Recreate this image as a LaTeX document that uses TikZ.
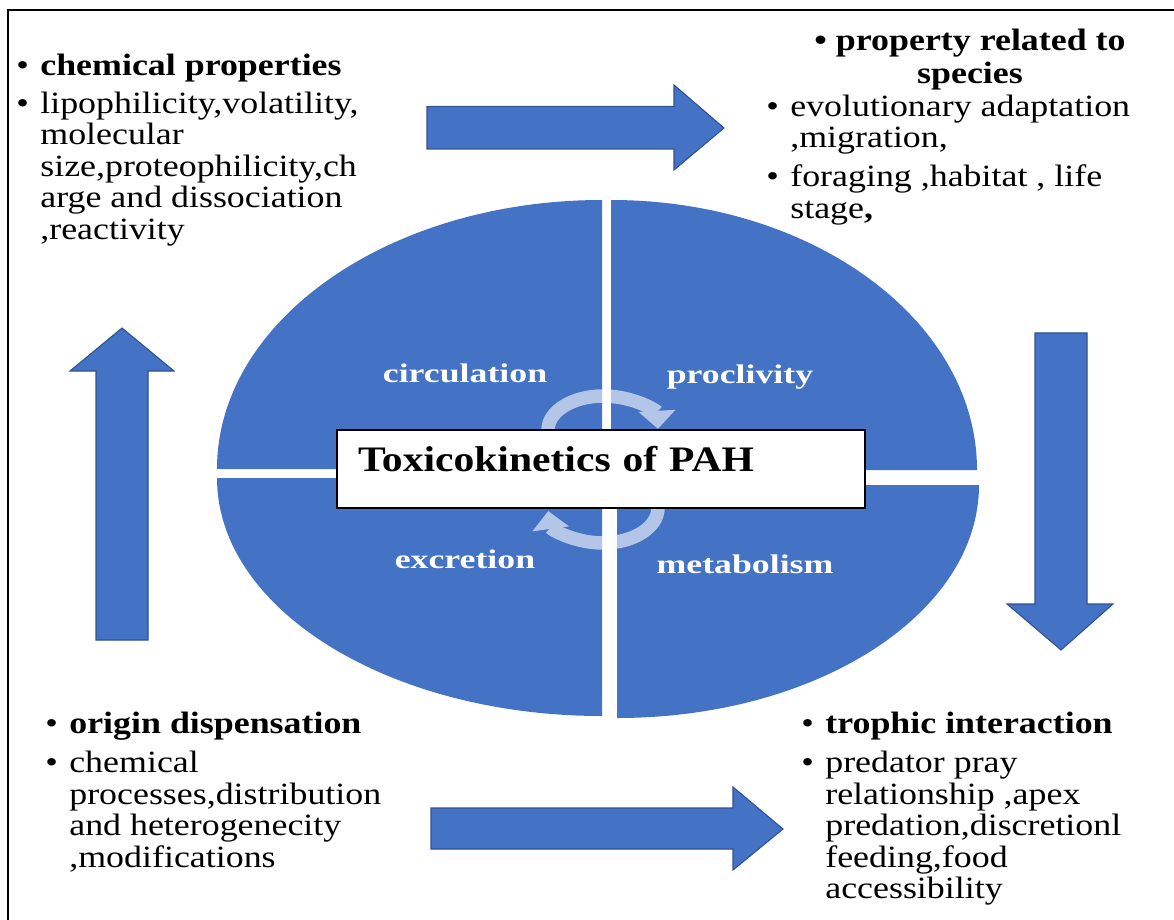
\documentclass[tikz,border=0pt]{standalone}
\usepackage{fontspec}
\setmainfont{Liberation Serif}[FakeStretch=1.16]
\newfontfamily\quadfont{Liberation Serif}[FakeStretch=1.33]
\usepackage{tikz}
\usetikzlibrary{arrows.meta}
\definecolor{quadblue}{RGB}{68,114,196}
\definecolor{arrowedge}{RGB}{47,82,143}
\newcommand{\bul}{\makebox[0.48cm][l]{\textbullet}}
\newcommand{\ind}{\hspace*{0.48cm}}

\begin{document}
\begin{tikzpicture}[scale=1,
    blockarrow/.style={fill=quadblue, draw=arrowedge, line width=0.6pt},
    quadrant/.style={fill=quadblue},
    quadlabel/.style={text=white, anchor=base, font=\quadfont\bfseries\fontsize{15.3}{18}\selectfont},
    cyclearrow/.style={draw=white, line width=0.27cm, -{Triangle[length=0.36cm, width=0.72cm]}},
    bodytext/.style={align=left, anchor=north west, inner sep=0pt, font=\fontsize{17.6}{17.9}\selectfont}]
    \useasboundingbox (0,0) rectangle (23.48,-18.4);
    \draw[line width=1pt] (0.16,-0.2) rectangle (23.9,-18.7);

    \fill[quadrant] (12.04,-9.38) -- ++(-7.70,0) arc[start angle=180, end angle=90, x radius=7.70cm, y radius=5.38cm] -- cycle;
    \fill[quadrant] (12.22,-9.40) -- ++(0,5.40) arc[start angle=90, end angle=0, x radius=7.32cm, y radius=5.40cm] -- cycle;
    \fill[quadrant] (12.04,-9.56) -- ++(-7.70,0) arc[start angle=180, end angle=270, x radius=7.70cm, y radius=4.76cm] -- cycle;
    \fill[quadrant] (12.34,-9.70) -- ++(7.24,0) arc[start angle=0, end angle=-90, x radius=7.24cm, y radius=4.66cm] -- cycle;

    \begin{scope}[transparency group, opacity=0.6]
        \draw[cyclearrow] (10.96,-8.60) arc[start angle=180, end angle=2, x radius=1.10cm, y radius=0.68cm];
        \draw[cyclearrow] (13.16,-10.16) arc[start angle=0, end angle=-175, x radius=1.10cm, y radius=0.70cm];
    \end{scope}

    \node[draw, fill=white, line width=1pt, align=left, text width=9.72cm, inner xsep=0.42cm, inner ysep=0pt,
        text height=0.82cm, text depth=0.74cm, font=\bfseries\fontsize{20.4}{24}\selectfont] (title) at (12.02,-9.38) {Toxicokinetics of PAH};

    \node[quadlabel] (circulation) at (9.30,-7.64) {circulation};
    \node[quadlabel] (proclivity) at (14.80,-7.66) {proclivity};
    \node[quadlabel] (excretion) at (9.30,-11.36) {excretion};
    \node[quadlabel] (metabolism) at (14.90,-11.46) {metabolism};

    \filldraw[blockarrow] (8.54,-2.13) -- (13.48,-2.13) -- (13.48,-1.70) -- (14.48,-2.56) -- (13.48,-3.40) -- (13.48,-2.98) -- (8.54,-2.98) -- cycle;
    \filldraw[blockarrow] (20.70,-6.66) -- (20.70,-12.08) -- (20.14,-12.08) -- (21.22,-13.00) -- (22.26,-12.08) -- (21.74,-12.08) -- (21.74,-6.66) -- cycle;
    \filldraw[blockarrow] (8.62,-16.16) -- (14.66,-16.16) -- (14.66,-15.74) -- (15.66,-16.58) -- (14.66,-17.40) -- (14.66,-16.98) -- (8.62,-16.98) -- cycle;
    \filldraw[blockarrow] (1.92,-12.80) -- (1.92,-7.42) -- (1.40,-7.42) -- (2.44,-6.56) -- (3.48,-7.42) -- (2.96,-7.42) -- (2.96,-12.80) -- cycle;

    \node[bodytext] (chemprop) at (0.32,-1.07) {\bul\textbf{chemical properties}\\[0.13cm]
        \bul lipophilicity,volatility,\\ \ind molecular\\ \ind size,proteophilicity,ch\\ \ind arge and dissociation\\ \ind ,reactivity};

    \node[bodytext, align=center, anchor=north] (spechead) at (19.40,-0.57) {\textbf{\textbullet\ property related to}\\[0.03cm] \textbf{species}};
    \node[bodytext] (specbody) at (15.32,-1.89) {\bul evolutionary adaptation\\ \ind ,migration,\\[0.15cm]
        \bul foraging ,habitat , life\\ \ind stage\textbf{,}};

    \node[bodytext] (origin) at (0.90,-14.23) {\bul\textbf{origin dispensation}\\[0.16cm]
        \bul chemical\\ \ind processes,distribution\\ \ind and heterogenecity\\ \ind ,modifications};

    \node[bodytext] (trophic) at (16.02,-14.23) {\bul\textbf{trophic interaction}\\[0.16cm]
        \bul predator pray\\ \ind relationship ,apex\\ \ind predation,discretionl\\ \ind feeding,food\\ \ind accessibility};
\end{tikzpicture}
\end{document}
